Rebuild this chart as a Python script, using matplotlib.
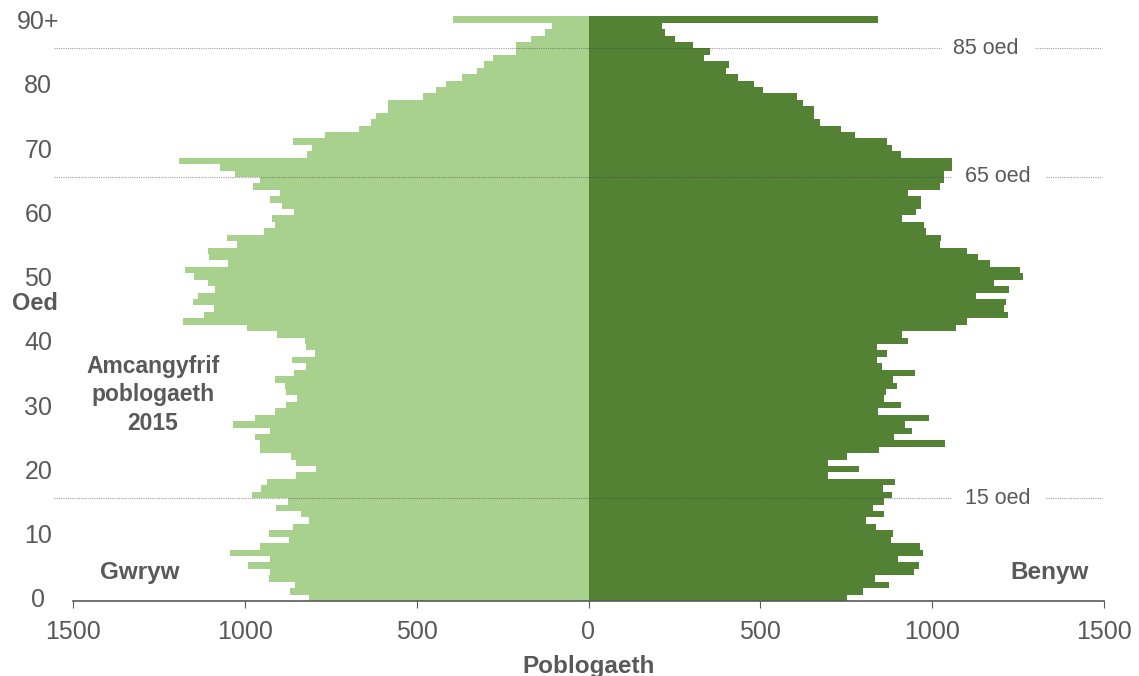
import matplotlib
matplotlib.use("Agg")
import matplotlib.pyplot as plt
import numpy as np

plt.rcParams['font.family'] = ['Liberation Sans', 'DejaVu Sans']

# ages 0..90 (90 = 90+)
ages = np.arange(91)
gwryw = [812, 868, 853, 931, 926, 992, 928, 1044, 955, 872,
         931, 859, 812, 838, 908, 873, 979, 953, 936, 850,
         792, 850, 866, 957, 957, 969, 928, 1035, 969, 913,
         879, 847, 879, 882, 913, 858, 821, 864, 796, 823,
         826, 906, 993, 1181, 1118, 1091, 1152, 1137, 1087, 1107,
         1149, 1173, 1048, 1104, 1108, 1023, 1052, 943, 912, 922,
         858, 892, 927, 899, 975, 955, 1030, 1071, 1191, 820,
         804, 859, 768, 668, 633, 619, 584, 584, 483, 444,
         415, 369, 325, 304, 279, 212, 212, 168, 126, 107,
         395]
benyw = [753, 799, 873, 833, 946, 961, 901, 973, 966, 881,
         886, 838, 808, 859, 828, 861, 884, 856, 893, 697,
         786, 697, 753, 846, 1038, 888, 942, 920, 990, 843,
         909, 859, 865, 897, 885, 951, 855, 840, 869, 840,
         931, 913, 1070, 1100, 1221, 1208, 1216, 1128, 1223, 1180,
         1265, 1255, 1168, 1134, 1100, 1023, 1026, 981, 976, 913,
         953, 968, 968, 931, 1023, 1035, 1033, 1058, 1058, 908,
         883, 868, 776, 735, 675, 656, 656, 623, 608, 509,
         481, 435, 399, 408, 336, 354, 305, 253, 223, 213,
         843]

ytick_pos = [0, 10, 20, 30, 40, 50, 60, 70, 80, 90]
ytick_labels = ['0', '10', '20', '30', '40', '50', '60', '70', '80', '90+']
xtick_pos = [-1500, -1000, -500, 0, 500, 1000, 1500]
xtick_labels = ['1500', '1000', '500', '0', '500', '1000', '1500']

marker_ages = [85, 65, 15]
marker_labels = ['85 oed', '65 oed', '15 oed']

grey = '#595959'
light = '#A9D18E'
dark = '#548235'

W, H = 1139, 676
fig = plt.figure(figsize=(W / 100, H / 100), dpi=100)
ax = fig.add_axes([73 / W, 75 / H, (1104 - 73) / W, (659.7 - 75) / H])

ax.barh(ages, -np.array(gwryw), height=1.0, color=light, linewidth=0)
ax.barh(ages, benyw, height=1.0, color=dark, linewidth=0)

ax.set_xlim(-1500, 1500)
ax.set_ylim(-0.5, 90.5)

for s in ['left', 'right', 'top']:
    ax.spines[s].set_visible(False)
ax.spines['bottom'].set_color(grey)
ax.spines['bottom'].set_linewidth(1.2)

ax.set_xticks(xtick_pos)
ax.set_xticklabels(xtick_labels)
ax.set_yticks(ytick_pos)
ax.set_yticklabels(ytick_labels, ha='center')
ax.tick_params(axis='x', length=5, color=grey, labelsize=18, labelcolor=grey, pad=9)
ax.tick_params(axis='y', length=0, labelsize=18, labelcolor=grey, pad=25)

# reference lines
for a, lab in zip(marker_ages, marker_labels):
    y = a + 0.5
    xl = 1025 if a == 85 else 1055
    xr = 1300 if a == 85 else 1330
    xt = 1157 if a == 85 else 1192
    for seg in ([-1555, xl], [xr, 1495]):
        ax.plot(seg, [y, y], color='#404040', lw=0.8, ls=(0, (1, 1)),
                alpha=0.5, clip_on=False, zorder=3)
    ax.text(xt, y, lab, ha='center', va='center', fontsize=15.5, color=grey)

fig.text(35 / W, 1 - 303 / H, 'Oed', ha='center', va='center',
         fontsize=17, fontweight='bold', color=grey)
fig.text(589 / W, 1 - 666 / H, 'Poblogaeth', ha='center', va='center',
         fontsize=17.5, fontweight='bold', color=grey)
fig.text(140 / W, 1 - 573 / H, 'Gwryw', ha='center', va='center',
         fontsize=17.5, fontweight='bold', color=grey)
fig.text(1050 / W, 1 - 573 / H, 'Benyw', ha='center', va='center',
         fontsize=17.5, fontweight='bold', color=grey)
fig.text(153 / W, 1 - 395 / H, 'Amcangyfrif\npoblogaeth\n2015', ha='center',
         va='center', fontsize=16.5, fontweight='bold', color=grey, linespacing=1.3)

fig.savefig('out.png', dpi=100)
